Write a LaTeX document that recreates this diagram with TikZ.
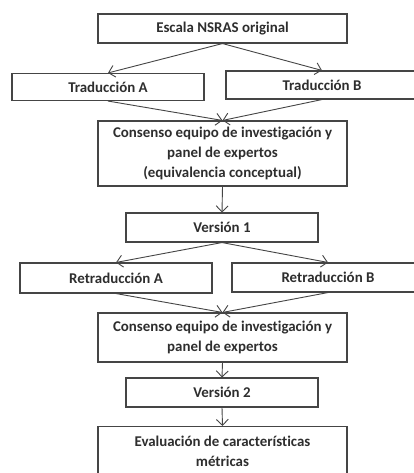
\documentclass[tikz,border=0pt]{standalone}
\usepackage{fontspec}
\setmainfont{Carlito}[Ligatures={NoCommon}]
\usetikzlibrary{arrows.meta}
\definecolor{linec}{HTML}{454545}
\definecolor{textc}{HTML}{2E2E2E}
\tikzset{
  box/.style={draw=linec, line width=1.1pt, inner sep=0pt, align=center,
    font=\fontsize{14.9}{20}\selectfont\bfseries, text=textc},
  conn/.style={draw=linec, line width=0.9pt, -{Straight Barb[length=6pt,width=12pt,line width=0.9pt]}}
}
\begin{document}
\begin{tikzpicture}[x=1pt,y=-1pt]
\useasboundingbox (0,0) rectangle (414,473);
\fill[white] (0,0) rectangle (414,473);
\clip (0,0) rectangle (414,473);
\node[box, minimum width=249pt, minimum height=29pt] (n1) at (222.5,28.5) {Escala NSRAS original};
\node[box, minimum width=192pt, minimum height=27pt] (tA) at (108,87) {Traducción A};
\node[box, minimum width=192pt, minimum height=28pt] (tB) at (322,85) {Traducción B};
\node[box, minimum width=249pt, minimum height=65pt] (c1) at (222.5,153.5) {Consenso equipo de investigación y\\panel de expertos\\(equivalencia conceptual)};
\node[box, minimum width=192pt, minimum height=29pt] (v1) at (222,227.5) {Versión 1};
\node[box, minimum width=192pt, minimum height=30pt] (rA) at (116,278) {Retraducción A};
\node[box, minimum width=192pt, minimum height=29pt] (rB) at (328,277.5) {Retraducción B};
\node[box, minimum width=249pt, minimum height=49pt] (c2) at (222.5,337.5) {Consenso equipo de investigación y\\panel de expertos};
\node[box, minimum width=192pt, minimum height=29pt] (v2) at (222,392.5) {Versión 2};
\node[box, minimum width=249pt, minimum height=49pt] (ev) at (222.5,451) {Evaluación de características\\métricas};
\draw[conn] (n1.south) -- (tA.north);
\draw[conn] (n1.south) -- (tB.north);
\draw[conn] (tA.south) -- (c1.north);
\draw[conn] (tB.south) -- (c1.north);
\draw[conn] (c1.south) -- (v1.north);
\draw[conn] (v1.south) -- (rA.north);
\draw[conn] (v1.south) -- (rB.north);
\draw[conn] (rA.south) -- (c2.north);
\draw[conn] (rB.south) -- (c2.north);
\draw[conn] (c2.south) -- (v2.north);
\draw[conn] (v2.south) -- (ev.north);
\end{tikzpicture}
\end{document}
